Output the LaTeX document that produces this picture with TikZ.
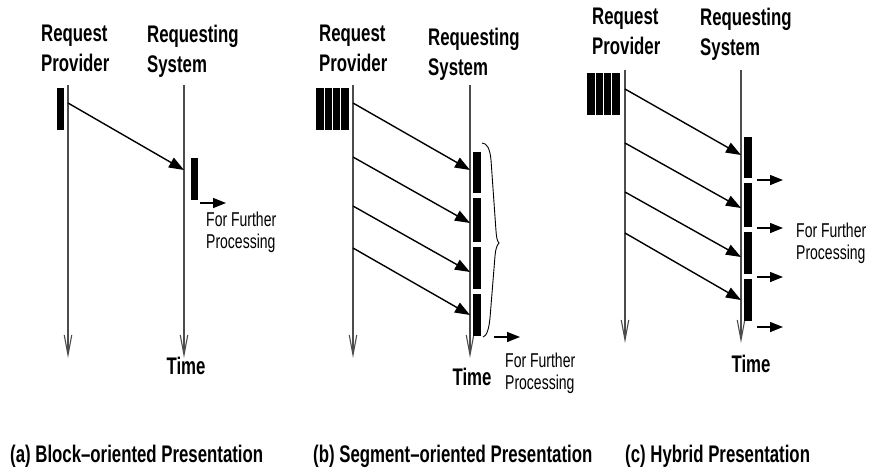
\documentclass[tikz,border=0pt]{standalone}
\usepackage{fontspec}
\setmainfont{Liberation Sans}[FakeStretch=0.7]
\usetikzlibrary{arrows.meta}

\begin{document}
\begin{tikzpicture}[x=1pt,y=-1pt,
  timeline/.style={draw=black!70,line width=1.1pt,-{Straight Barb[length=20pt,width=7.5pt]}},
  msg/.style={draw,line width=1.4pt,-{Triangle[length=15pt,width=11pt]}},
  outarrow/.style={draw,line width=1.4pt,-{Triangle[length=13pt,width=10pt]}},
  head/.style={anchor=north west,inner sep=0pt,align=left,font=\fontsize{24}{30}\selectfont\bfseries},
  note/.style={anchor=north west,inner sep=0pt,align=left,font=\fontsize{20}{22}\selectfont},
  timelabel/.style={anchor=north,inner sep=0pt,font=\fontsize{24}{30}\selectfont\bfseries},
  caption/.style={anchor=base west,inner sep=0pt,font=\fontsize{24}{30}\selectfont\bfseries},
  sepline/.style={draw=white,line width=1.2pt},
]
\useasboundingbox (0,0) rectangle (870,475);

% ---------------- (a) block-oriented ----------------
\node[head] (aprov) at (41,25) {Request\\Provider};
\node[head] (areq)  at (147,25) {Requesting\\System};
\coordinate (aPt) at (68,85);  \coordinate (aPb) at (68,358);
\coordinate (aRt) at (184,85); \coordinate (aRb) at (184,358);
\draw[timeline] (aPt) -- (aPb);
\draw[timeline] (aRt) -- (aRb);
\fill (57,88) rectangle (64,130);
\coordinate (aS1) at (68,103); \coordinate (aE1) at (184,170);
\draw[msg] (aS1) -- (aE1);
\fill (191,158) rectangle (198,200);
\coordinate (aO1) at (200,203); \coordinate (aO1e) at (226,203);
\draw[outarrow] (aO1) -- (aO1e);
\node[note] (anote) at (206,212) {For Further\\Processing};
\node[timelabel] (atime) at (186,357) {Time};
\node[caption] (acap) at (10,462) {(a) Block–oriented Presentation};

% ---------------- (b) segment-oriented ----------------
\node[head] (bprov) at (319,25) {Request\\Provider};
\node[head] (breq)  at (428,28) {Requesting\\System};
\coordinate (bPt) at (353,85);  \coordinate (bPb) at (353,358);
\coordinate (bRt) at (470,85);  \coordinate (bRb) at (470,358);
\draw[timeline] (bPt) -- (bPb);
\draw[timeline] (bRt) -- (bRb);
\fill (316,88) rectangle (349,130);
\foreach \x in {324.1,332.4,340.7} \draw[sepline] (\x,88) -- (\x,130);
\foreach \s/\e [count=\i] in {103/170,157/223,206/272,248/315}{
  \coordinate (bS\i) at (353,\s); \coordinate (bE\i) at (470,\e);
  \draw[msg] (bS\i) -- (bE\i);
}
\foreach \t/\b in {152/193,198/242,247/289,294/336}
  \fill (473,\t) rectangle (481,\b);
% brace gathering the received segments
\draw[line width=0.9pt] (482,143) .. controls (487,143) and (490,149) .. (491,160)
  -- (496,231) .. controls (496.5,237) and (497,241) .. (499,243)
  .. controls (497,245) and (495.5,249) .. (495,256)
  -- (490,318) .. controls (489,328) and (487,336) .. (483,337);
\coordinate (bO1) at (494,337); \coordinate (bO1e) at (520,337);
\draw[outarrow] (bO1) -- (bO1e);
\node[note] (bnote) at (505,353) {For Further\\Processing};
\node[timelabel] (btime) at (472,368) {Time};
\node[caption] (bcap) at (313,462) {(b) Segment–oriented Presentation};

% ---------------- (c) hybrid ----------------
\node[head] (cprov) at (592,8) {Request\\Provider};
\node[head] (creq)  at (700,8) {Requesting\\System};
\coordinate (cPt) at (625,70);  \coordinate (cPb) at (625,343);
\coordinate (cRt) at (741,70);  \coordinate (cRb) at (741,343);
\draw[timeline] (cPt) -- (cPb);
\draw[timeline] (cRt) -- (cRb);
\fill (587,73) rectangle (620,115);
\foreach \x in {595.1,603.4,611.7} \draw[sepline] (\x,73) -- (\x,115);
\foreach \s/\e [count=\i] in {89/155,143/208,192/257,233/300}{
  \coordinate (cS\i) at (625,\s); \coordinate (cE\i) at (741,\e);
  \draw[msg] (cS\i) -- (cE\i);
}
\foreach \t/\b in {137/178,183/227,232/274,279/321}
  \fill (744,\t) rectangle (752,\b);
\foreach \y [count=\i] in {180,228,277,327}{
  \coordinate (cO\i) at (757,\y); \coordinate (cO\i e) at (783,\y);
  \draw[outarrow] (cO\i) -- (cO\i e);
}
\node[note] (cnote) at (796,223) {For Further\\Processing};
\node[timelabel] (ctime) at (751,355) {Time};
\node[caption] (ccap) at (625,462) {(c) Hybrid Presentation};
\end{tikzpicture}
\end{document}
